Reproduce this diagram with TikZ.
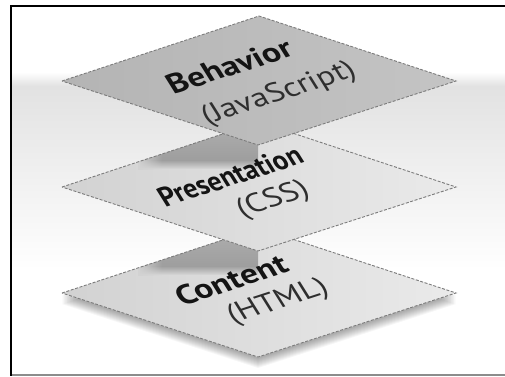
\documentclass[tikz,border=0pt]{standalone}
\usepackage{fontspec}
\setmainfont{PT Sans}
\usetikzlibrary{fadings}
\definecolor{topL}{HTML}{B4B4B4}
\definecolor{topR}{HTML}{C4C4C4}
\definecolor{midL}{HTML}{D2D2D2}
\definecolor{midR}{HTML}{EAEAEA}
\definecolor{edge}{HTML}{7C7C7C}
\definecolor{band}{HTML}{E2E2E2}
\tikzset{
  plate/.style={draw=edge, line width=0.9pt, dash pattern=on 3pt off 1.6pt},
  % one plate: left, top, right and bottom corners about a centre height
  plateshape/.style={insert path={(62,#1) -- (259,#1-65) -- (456,#1) -- (258,#1+64) -- cycle}},
  label/.style={inner sep=0pt, rotate=18, xslant=-0.25, yscale=0.84},
  head/.style={label, font=\fontsize{34}{34}\selectfont\bfseries, text=black!92},
  sub/.style={label, font=\fontsize{33}{33}\selectfont, text=black!82},
}
\begin{document}
\begin{tikzpicture}[x=1pt,y=-1pt]
\useasboundingbox (0,0) rectangle (505,376);
% background and frame
\fill[white] (0,0) rectangle (505,376);
\shade[top color=white, bottom color=band] (12,72) rectangle (505,86);
\shade[top color=band, bottom color=white] (12,86) rectangle (505,270);
\fill[black] (10,5) rectangle (12,376);
\fill[black] (10,5) rectangle (505,7);
\fill[black!45] (12,374) rectangle (505,376);

% soft shadow under the lowest plate
\foreach \i in {0,...,9}
  \fill[black, opacity=0.035, plateshape=293+2+\i];

% bottom plate
\shade[left color=midL, right color=midR, plateshape=293];
\begin{scope}
  \clip[plateshape=293];
  \shade[top color=midL!85!black, bottom color=black!38] (140,220) rectangle (258,266);
  \shade[top color=black!38, bottom color=midL] (140,266) rectangle (258,274);
  \fill[midL, path fading=east] (138,220) rectangle (162,276);
\end{scope}
\draw[plate, plateshape=293];

% middle plate
\shade[left color=midL, right color=midR, plateshape=187];
\begin{scope}
  \clip[plateshape=187];
  \shade[top color=midL!85!black, bottom color=black!38] (140,114) rectangle (258,160);
  \shade[top color=black!38, bottom color=midL] (140,160) rectangle (258,168);
  \fill[midL, path fading=east] (138,114) rectangle (162,170);
\end{scope}
\draw[plate, plateshape=187];

% top plate
\shade[left color=topL, right color=topR, plateshape=81];
\draw[plate, plateshape=81];

% labels
\node[head] (behavior) at (229,66) {Behavior};
\node[sub] (js) at (279,94) {(JavaScript)};
\node[head, xscale=0.8] (presentation) at (230,176) {Presentation};
\node[sub] (css) at (273,200) {(CSS)};
\node[head] (content) at (231,280) {Content};
\node[sub] (html) at (278,302) {(HTML)};
\end{tikzpicture}
\end{document}
